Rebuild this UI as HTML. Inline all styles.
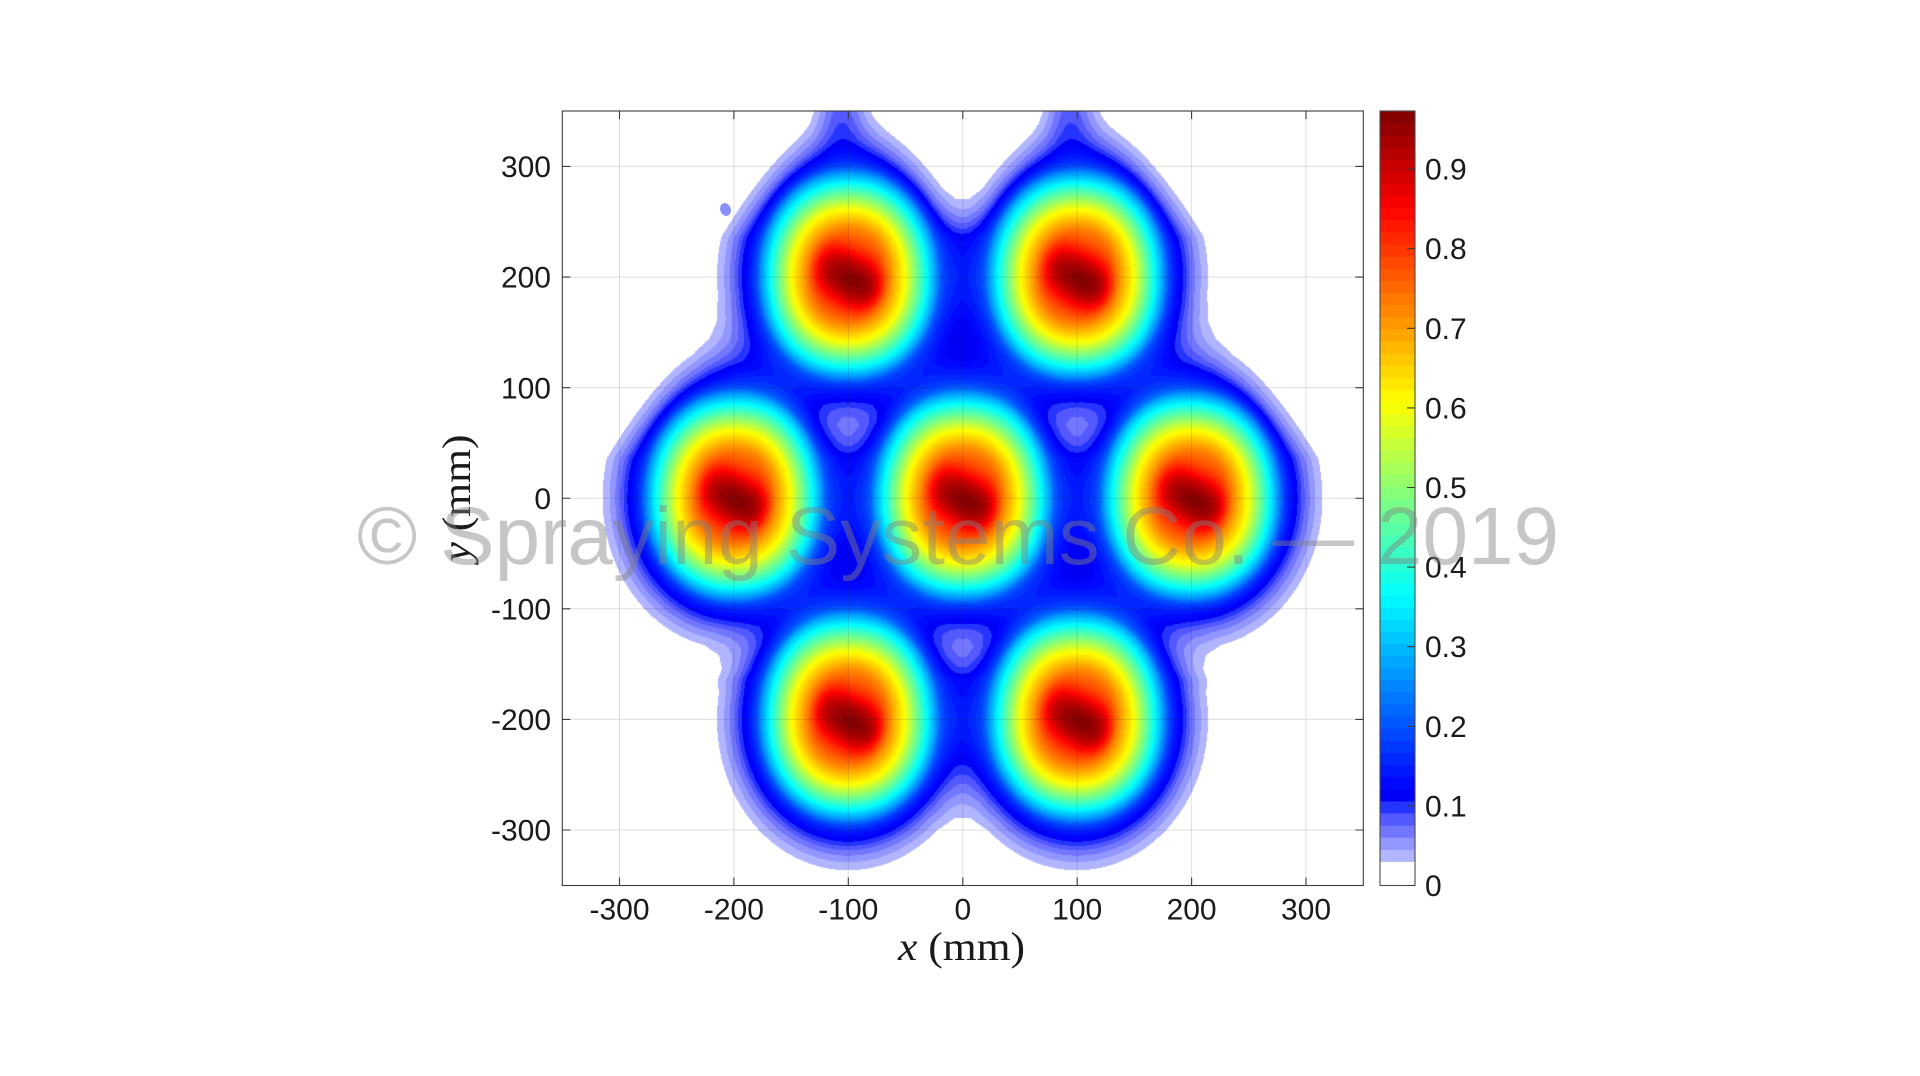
<!DOCTYPE html>
<html>
<head>
<meta charset="utf-8">
<style>
html,body{margin:0;padding:0;background:#fff;}
#wrap{position:relative;width:1920px;height:1076px;overflow:hidden;background:#fff;}
#c{position:absolute;left:562px;top:111px;width:801px;height:775px;}
#ov{position:absolute;left:0;top:0;}
</style>
</head>
<body>
<div id="wrap">
<canvas id="c" width="801" height="775"></canvas>
<svg id="ov" width="1920" height="1076" viewBox="0 0 1920 1076" xmlns="http://www.w3.org/2000/svg">
  <ellipse cx="725.5" cy="209.5" rx="5.3" ry="6.5" fill="#8a8fff" transform="rotate(-20 725.5 209.5)"/>
  <g stroke="rgba(38,38,38,0.15)" stroke-width="1">
    <line x1="619.5" y1="111" x2="619.5" y2="885.5"/>
    <line x1="733.9" y1="111" x2="733.9" y2="885.5"/>
    <line x1="848.3" y1="111" x2="848.3" y2="885.5"/>
    <line x1="962.8" y1="111" x2="962.8" y2="885.5"/>
    <line x1="1077.2" y1="111" x2="1077.2" y2="885.5"/>
    <line x1="1191.6" y1="111" x2="1191.6" y2="885.5"/>
    <line x1="1306" y1="111" x2="1306" y2="885.5"/>
    <line x1="562.3" y1="166.4" x2="1363.3" y2="166.4"/>
    <line x1="562.3" y1="277.1" x2="1363.3" y2="277.1"/>
    <line x1="562.3" y1="387.7" x2="1363.3" y2="387.7"/>
    <line x1="562.3" y1="498.25" x2="1363.3" y2="498.25"/>
    <line x1="562.3" y1="608.8" x2="1363.3" y2="608.8"/>
    <line x1="562.3" y1="719.4" x2="1363.3" y2="719.4"/>
    <line x1="562.3" y1="830" x2="1363.3" y2="830"/>
  </g>
  <rect x="562.3" y="111" width="801" height="774.5" fill="none" stroke="#3a3a3a" stroke-width="1.1"/>
  <g stroke="#3a3a3a" stroke-width="1.1">
    <path d="M619.5 885.5v-8M733.9 885.5v-8M848.3 885.5v-8M962.8 885.5v-8M1077.2 885.5v-8M1191.6 885.5v-8M1306 885.5v-8"/>
    <path d="M619.5 111v8M733.9 111v8M848.3 111v8M962.8 111v8M1077.2 111v8M1191.6 111v8M1306 111v8"/>
    <path d="M562.3 166.4h8M562.3 277.1h8M562.3 387.7h8M562.3 498.25h8M562.3 608.8h8M562.3 719.4h8M562.3 830h8"/>
    <path d="M1363.3 166.4h-8M1363.3 277.1h-8M1363.3 387.7h-8M1363.3 498.25h-8M1363.3 608.8h-8M1363.3 719.4h-8M1363.3 830h-8"/>
  </g>
  <g font-family="Liberation Sans, Arial, sans-serif" font-size="30" fill="#1a1a1a">
    <g text-anchor="middle">
      <text x="619.5" y="919.5">-300</text>
      <text x="733.9" y="919.5">-200</text>
      <text x="848.3" y="919.5">-100</text>
      <text x="962.8" y="919.5">0</text>
      <text x="1077.2" y="919.5">100</text>
      <text x="1191.6" y="919.5">200</text>
      <text x="1306" y="919.5">300</text>
    </g>
    <g text-anchor="end">
      <text x="551" y="177">300</text>
      <text x="551" y="287.7">200</text>
      <text x="551" y="398.3">100</text>
      <text x="551" y="508.8">0</text>
      <text x="551" y="619.4">-100</text>
      <text x="551" y="730">-200</text>
      <text x="551" y="840.6">-300</text>
    </g>
  </g>
  <text x="898" y="960" font-family="Liberation Serif, DejaVu Serif, serif" font-size="40" fill="#1a1a1a" textLength="127" lengthAdjust="spacingAndGlyphs"><tspan font-style="italic">x</tspan> (mm)</text>
  <text transform="translate(470,498) rotate(-90)" text-anchor="middle" font-family="Liberation Serif, DejaVu Serif, serif" font-size="40" fill="#1a1a1a" textLength="127" lengthAdjust="spacingAndGlyphs"><tspan font-style="italic">y</tspan> (mm)</text>
  <g id="cb"></g>
  <rect x="1380" y="111" width="35" height="774.5" fill="none" stroke="#4a4a4a" stroke-width="1.1"/>
  <g stroke="#3a3a3a" stroke-width="1.1">
    <path d="M1415 885.5h-8M1415 805.9h-8M1415 726.3h-8M1415 646.7h-8M1415 567.1h-8M1415 487.5h-8M1415 407.9h-8M1415 328.3h-8M1415 248.7h-8M1415 169.1h-8"/>
  </g>
  <g font-family="Liberation Sans, Arial, sans-serif" font-size="30" fill="#1a1a1a">
    <text x="1425" y="896">0</text>
    <text x="1425" y="816.4">0.1</text>
    <text x="1425" y="736.8">0.2</text>
    <text x="1425" y="657.2">0.3</text>
    <text x="1425" y="577.6">0.4</text>
    <text x="1425" y="498">0.5</text>
    <text x="1425" y="418.4">0.6</text>
    <text x="1425" y="338.8">0.7</text>
    <text x="1425" y="259.2">0.8</text>
    <text x="1425" y="179.6">0.9</text>
  </g>
  <text x="357" y="564" font-family="Liberation Sans, Arial, sans-serif" font-size="82" fill="rgba(128,128,128,0.45)" textLength="1202" lengthAdjust="spacingAndGlyphs">© Spraying Systems Co. — 2019</text>
</svg>
</div>
<script>
(function(){
  var NL=64, VMAX=0.973, STEP=VMAX/NL;
  function clamp(a){return a<0?0:(a>1?1:a);}
  function jet(x){
    var r=clamp(1.5-Math.abs(4*x-3)), g=clamp(1.5-Math.abs(4*x-2)), b=clamp(1.5-Math.abs(4*x-1));
    return [Math.round(r*255),Math.round(g*255),Math.round(b*255)];
  }
  var cols=[];
  var faded={2:[177,181,255],3:[146,150,255],4:[115,119,255],5:[84,88,255],6:[37,53,255]};
  for(var k=0;k<NL;k++){
    if(k<2) cols.push(null);
    else if(faded[k]) cols.push(faded[k]);
    else cols.push(jet((k+0.5)/NL));
  }
  var cb=document.getElementById('cb'), ns='http://www.w3.org/2000/svg', bh=774.5/NL;
  for(var k=0;k<NL;k++){
    var c=cols[k]||[255,255,255];
    var r=document.createElementNS(ns,'rect');
    r.setAttribute('x',1380); r.setAttribute('width',35);
    r.setAttribute('y',(885.5-(k+1)*bh).toFixed(2));
    r.setAttribute('height',(bh+0.6).toFixed(2));
    r.setAttribute('fill','rgb('+c[0]+','+c[1]+','+c[2]+')');
    cb.appendChild(r);
  }
  var R=[0,10,20,30,43,57,66,75,81,87,92,97,103,109,114.5,122,130,138,150,170];
  var V=[0.973,0.95,0.90,0.82,0.71,0.60,0.50,0.40,0.33,0.26,0.19,0.15,0.12,0.095,0.072,0.05,0.032,0.02,0.008,0];
  var LUT=new Float32Array(1702);
  for(var i=0;i<1702;i++){
    var rr=i*0.1, v=0;
    if(rr<170){ var j=0; while(R[j+1]<rr) j++; var t=(rr-R[j])/(R[j+1]-R[j]); v=V[j]+(V[j+1]-V[j])*t; }
    LUT[i]=v;
  }
  function prof(r){ if(r>=170) return 0; return LUT[(r*10)|0]; }
  var xs=[-100,100,-200,0,200,-100,100], ys=[200,200,0,0,0,-200,-200];
  var cx=[],cy=[];
  for(var s=0;s<7;s++){cx.push(962.8+1.144*xs[s]); cy.push(498.25-1.106*ys[s]);}
  var ang=30*Math.PI/180, ca=Math.cos(ang), sa=Math.sin(ang);
  function smooth(a,b,x){var t=(x-a)/(b-a); t=t<0?0:(t>1?1:t); return t*t*(3-2*t);}
  var P=2.15, IP=1/2.15;
  var cv=document.getElementById('c'), ctx=cv.getContext('2d');
  var W=801,H=775,X0=562.3,Y0=111;
  var img=ctx.createImageData(W,H), d=img.data;
  for(var j=0;j<H;j++){
    var py=Y0+j+0.5;
    for(var i=0;i<W;i++){
      var px=X0+i+0.5, v=0;
      for(var s=0;s<7;s++){
        var dx=px-cx[s], dy=py-cy[s];
        var dys = dy<0 ? dy/1.2 : dy/1.15;
        var rm0=Math.sqrt(dx*dx+dys*dys);
        if(rm0<175){
          var r=rm0;
          if(rm0<110){
            var rp=Math.pow(Math.pow(Math.abs(dx),P)+Math.pow(Math.abs(dys),P),IP);
            var tb=smooth(80,110,rm0);
            r=rp*(1-tb)+rm0*tb;
          }
          if(dy<0 && rm0>85){
            var nar=1+0.3*Math.max(0,-dy-40)/100*smooth(85,110,rm0);
            var dxe=dx*nar;
            var rn=Math.sqrt(dxe*dxe+dys*dys);
            r+= (rn-rm0);
          }
          if(rm0<50){
            var ox=dx-4, oy=dy-3;
            var u=ox*ca+oy*sa, w=-ox*sa+oy*ca;
            var rc=Math.sqrt((u/1.7)*(u/1.7)+(w/0.9)*(w/0.9));
            var tt=smooth(16,45,rm0);
            r=rc*(1-tt)+r*tt;
          }
          v+=prof(r);
        }
        if(s<2){
          var du=cy[s]-py;
          if(du>100){
            var a=0.065*smooth(100,170,du);
            var ddx=(dx+7)/24;
            v+=a*Math.exp(-ddx*ddx);
          }
        }
      }
      var k=Math.floor(v/STEP); if(k>NL-1) k=NL-1;
      var o=(j*W+i)*4;
      if(k<2){ d[o]=255; d[o+1]=255; d[o+2]=255; d[o+3]=0; }
      else { var c=cols[k]; d[o]=c[0]; d[o+1]=c[1]; d[o+2]=c[2]; d[o+3]=255; }
    }
  }
  ctx.putImageData(img,0,0);
})();
</script>
</body>
</html>
